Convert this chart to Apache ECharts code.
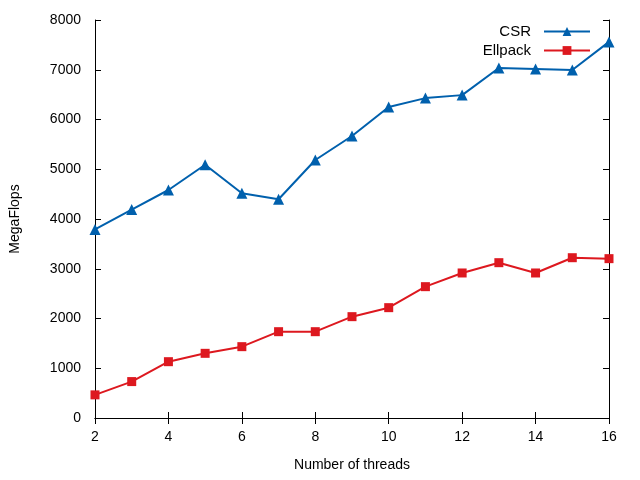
<!DOCTYPE html>
<html>
<head>
<meta charset="utf-8">
<script src="https://cdn.jsdelivr.net/npm/echarts@6/dist/echarts.min.js"></script>
<style>
html, body { margin: 0; padding: 0; background: #fff; }
#container { width: 640px; height: 480px; }
</style>
</head>
<body>
<div id="container"></div>
<script>
var threads = [2, 3, 4, 5, 6, 7, 8, 9, 10, 11, 12, 13, 14, 15, 16];
var csr = [3790, 4190, 4583, 5090, 4518, 4398, 5186, 5668, 6250, 6430, 6490, 7035, 7015, 6995, 7560];
var ellpack = [465, 732, 1132, 1300, 1434, 1735, 1735, 2037, 2218, 2640, 2915, 3122, 2915, 3222, 3203];
var yTicks = [0, 1000, 2000, 3000, 4000, 5000, 6000, 7000, 8000];

function pairs(xs, ys) {
    var out = [];
    for (var i = 0; i < xs.length; i++) {
        out.push([xs[i], ys[i]]);
    }
    return out;
}

var font = 'Liberation Sans';
var lineAxis = {lineStyle: {color: '#000', width: 1}};
var tickIn = {show: true, inside: true, length: 6, lineStyle: {color: '#000', width: 1}};

var myChart = echarts.init(document.getElementById('container'));
var option = {
    animation: false,
    backgroundColor: '#fff',
    textStyle: {fontFamily: font},
    grid: {left: 95, right: 31, top: 20, bottom: 62, containLabel: false},
    legend: {
        orient: 'vertical',
        right: 44,
        top: 19,
        align: 'right',
        itemWidth: 46,
        itemHeight: 11,
        itemGap: 4,
        textStyle: {fontFamily: font, fontSize: 15, color: '#000', padding: [0, 8, 0, 0]},
        data: ['CSR', 'Ellpack']
    },
    xAxis: [
        {
            type: 'value',
            min: 2,
            max: 16,
            interval: 2,
            name: 'Number of threads',
            nameLocation: 'middle',
            nameGap: 40,
            nameTextStyle: {fontFamily: font, fontSize: 14, color: '#000'},
            axisLine: lineAxis,
            axisTick: tickIn,
            axisLabel: {fontFamily: font, fontSize: 14, color: '#000', margin: 12},
            splitLine: {show: false}
        },
        {
            type: 'value',
            position: 'top',
            min: 2,
            max: 16,
            interval: 2,
            axisLine: lineAxis,
            axisTick: tickIn,
            axisLabel: {show: false},
            splitLine: {show: false}
        }
    ],
    yAxis: [
        {
            type: 'value',
            min: yTicks[0],
            max: yTicks[yTicks.length - 1],
            interval: 1000,
            name: 'MegaFlops',
            nameLocation: 'middle',
            nameGap: 73,
            nameTextStyle: {fontFamily: font, fontSize: 14, color: '#000'},
            axisLine: lineAxis,
            axisTick: tickIn,
            axisLabel: {
                fontFamily: font, fontSize: 14, color: '#000', margin: 14,
                formatter: function (v) { return String(v); }
            },
            splitLine: {show: false}
        },
        {
            type: 'value',
            position: 'right',
            min: yTicks[0],
            max: yTicks[yTicks.length - 1],
            interval: 1000,
            axisLine: lineAxis,
            axisTick: tickIn,
            axisLabel: {show: false},
            splitLine: {show: false}
        }
    ],
    series: [
        {
            name: 'CSR',
            type: 'line',
            data: pairs(threads, csr),
            symbol: 'triangle',
            symbolSize: 11,
            color: '#0060ad',
            lineStyle: {width: 2, color: '#0060ad'},
            itemStyle: {color: '#0060ad'},
            z: 3
        },
        {
            name: 'Ellpack',
            type: 'line',
            data: pairs(threads, ellpack),
            symbol: 'rect',
            symbolSize: 9,
            color: '#dd181f',
            lineStyle: {width: 2, color: '#dd181f'},
            itemStyle: {color: '#dd181f'},
            z: 3
        }
    ]
};

myChart.setOption(option);
</script>
</body>
</html>
